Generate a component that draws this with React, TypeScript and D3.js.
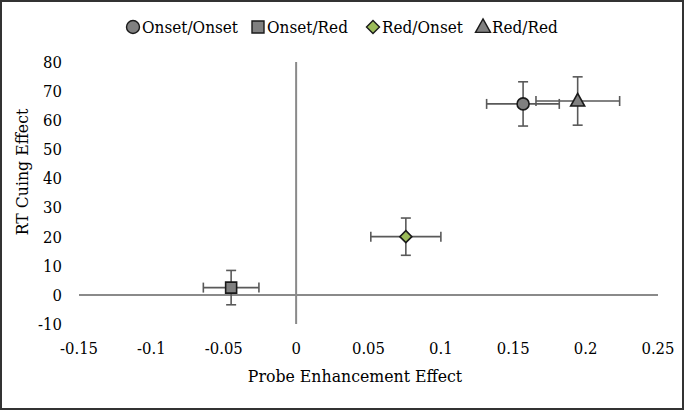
import React from "react";
import * as d3 from "d3";

const seriesNames = ["Onset/Onset", "Onset/Red", "Red/Onset", "Red/Red"];
const xValues = [0.1568, -0.0449, 0.0758, 0.1945];
const yValues = [65.6, 2.5, 20.0, 66.6];
const xErrors = [0.025, 0.0192, 0.0242, 0.029];
const xErrorsLow = [0.0252, 0.0192, 0.0242, 0.0288];
const yErrors = [7.6, 5.9, 6.4, 8.3];
const markerShapes = ["circle", "square", "diamond", "triangle"];
const markerFills = ["#808080", "#808080", "#9bbb59", "#808080"];
const xTicks = [-0.15, -0.1, -0.05, 0, 0.05, 0.1, 0.15, 0.2, 0.25];
const yTicks = [80, 70, 60, 50, 40, 30, 20, 10, 0, -10];

const W = 685;
const H = 411;
const FONT_C = "DejaVu Serif Condensed, DejaVu Serif";

const x = d3.scaleLinear().domain([-0.15, 0.25]).range([79, 658]);
const y = d3.scaleLinear().domain([-10, 80]).range([324, 62]);

function markerPath(shape: string, s: number) {
  if (shape === "circle") return d3.symbol().type(d3.symbolCircle).size(s * s * 0.785)() as string;
  if (shape === "square") return `M${-s / 2},${-s / 2}H${s / 2}V${s / 2}H${-s / 2}Z`;
  if (shape === "diamond") {
    const r = s / 2;
    return `M0,${-r}L${r},0L0,${r}L${-r},0Z`;
  }
  const h = s * 0.9;
  return `M0,${-h * 0.6}L${s / 2},${h * 0.4}L${-s / 2},${h * 0.4}Z`;
}

const sizes: Record<string, number> = { circle: 12, square: 11, diamond: 12, triangle: 14 };

export default function App() {
  const errColor = "#595959";
  const cap = 5;
  const legendX = [133, 258, 373, 483];
  return (
    <svg width={W} height={H} style={{ position: "absolute", left: 0, top: 0, background: "#fff" }}>
      <rect x={0} y={0} width={W} height={H} fill="#fff" />
      <line x1={x(0)} x2={x(0)} y1={y(80)} y2={y(-10)} stroke="#8a8a8a" strokeWidth={2} />
      <line x1={x(-0.15)} x2={x(0.25)} y1={y(0)} y2={y(0)} stroke="#8a8a8a" strokeWidth={2} />
      {yTicks.map((t) => (
        <text key={"y" + t} x={62} y={y(t)} dy="0.36em" textAnchor="end" fontFamily={FONT_C} fontSize={16.5} fill="#000">
          {t}
        </text>
      ))}
      {xTicks.map((t) => (
        <text key={"x" + t} x={x(t)} y={354} textAnchor="middle" fontFamily={FONT_C} fontSize={16.5} fill="#000">
          {t}
        </text>
      ))}
      <text x={355} y={382} textAnchor="middle" fontFamily={FONT_C} fontSize={17.5} fill="#000">
        Probe Enhancement Effect
      </text>
      <text transform="translate(28,172) rotate(-90)" textAnchor="middle" fontFamily={FONT_C} fontSize={17.5} fill="#000">
        RT Cuing Effect
      </text>
      {seriesNames.map((n, i) => {
        const cx = x(xValues[i]);
        const cy = y(yValues[i]);
        const x0 = x(xValues[i] - xErrorsLow[i]);
        const x1 = x(xValues[i] + xErrors[i]);
        const y0 = y(yValues[i] - yErrors[i]);
        const y1 = y(yValues[i] + yErrors[i]);
        return (
          <g key={"e" + n} stroke={errColor} strokeWidth={1.6}>
            <line x1={x0} x2={x1} y1={cy} y2={cy} />
            <line x1={x0} x2={x0} y1={cy - cap} y2={cy + cap} />
            <line x1={x1} x2={x1} y1={cy - cap} y2={cy + cap} />
            <line x1={cx} x2={cx} y1={y0} y2={y1} />
            <line x1={cx - cap} x2={cx + cap} y1={y0} y2={y0} />
            <line x1={cx - cap} x2={cx + cap} y1={y1} y2={y1} />
          </g>
        );
      })}
      {seriesNames.map((n, i) => (
        <path
          key={"m" + n}
          d={markerPath(markerShapes[i], sizes[markerShapes[i]])}
          transform={`translate(${x(xValues[i])},${y(yValues[i])})`}
          fill={markerFills[i]}
          stroke="#1a1a1a"
          strokeWidth={1.6}
        />
      ))}
      {seriesNames.map((n, i) => (
        <g key={"l" + n}>
          <path
            d={markerPath(markerShapes[i], sizes[markerShapes[i]] + 1)}
            transform={`translate(${legendX[i]},27)`}
            fill={markerFills[i]}
            stroke="#1a1a1a"
            strokeWidth={1.4}
          />
          <text x={legendX[i] + 9} y={33} fontFamily={FONT_C} fontSize={17} fill="#000">
            {n}
          </text>
        </g>
      ))}
      <rect x={1} y={1} width={682} height={408} fill="none" stroke="#333" strokeWidth={2} />
    </svg>
  );
}
